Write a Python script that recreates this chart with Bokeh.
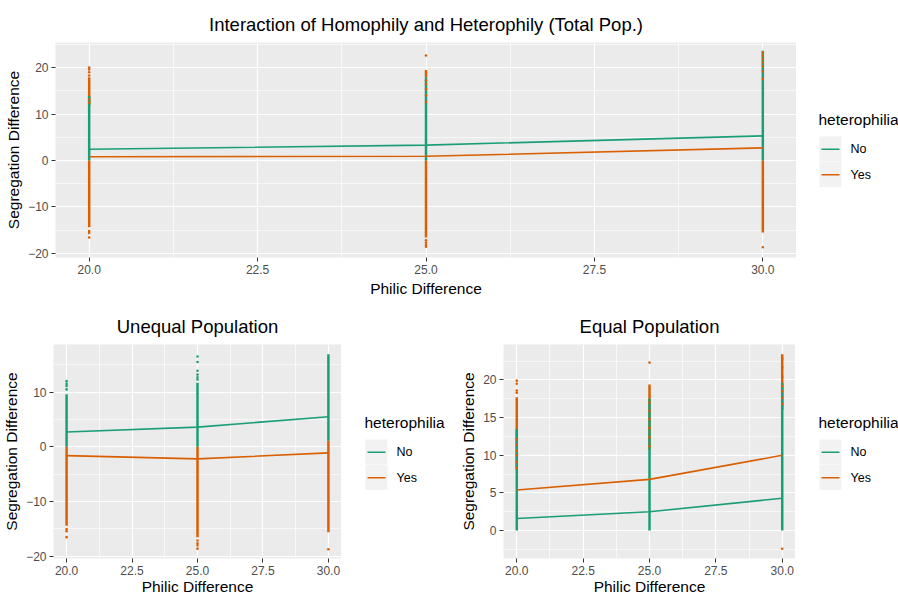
from bokeh.plotting import figure
from bokeh.layouts import column, row
from bokeh.models import Range1d, FixedTicker, PrintfTickFormatter
from bokeh.core.properties import value
from bokeh.embed import file_html
from bokeh.resources import INLINE

# ---- data -------------------------------------------------------------
philic = [20, 25, 30]
x_major = [20.0, 22.5, 25.0, 27.5, 30.0]
x_minor = [21.25, 23.75, 26.25, 28.75]

legend_title = "heterophilia"
legend_labels = ["No", "Yes"]

# mean segregation difference per philic difference
total_no_mean = [2.4, 3.3, 5.3]
total_yes_mean = [0.8, 0.9, 2.7]
unequal_no_mean = [2.7, 3.6, 5.5]
unequal_yes_mean = [-1.6, -2.2, -1.1]
equal_no_mean = [1.6, 2.5, 4.3]
equal_yes_mean = [5.4, 6.8, 10.0]

# dense runs of simulated outcomes: x, low end, high end
total_no_run_x = [20, 25, 30]
total_no_run_lo = [0, 0, 0]
total_no_run_hi = [13.9, 17.9, 23.6]
total_yes_run_x = [20, 20, 25, 25, 30]
total_yes_run_lo = [11.8, -14.4, 17.9, -16.6, -15.5]
total_yes_run_hi = [17.9, 0, 19.5, 0, 0]

unequal_no_run_x = [20, 25, 30]
unequal_no_run_lo = [0, 0, 1.1]
unequal_no_run_hi = [9.6, 11.7, 16.9]
unequal_yes_run_x = [20, 25, 30]
unequal_yes_run_lo = [-14.4, -16.5, -15.6]
unequal_yes_run_hi = [0, 0, 1.1]

equal_no_run_x = [20, 25, 30]
equal_no_run_lo = [0, 0, 0]
equal_no_run_hi = [13.5, 17.5, 19.6]
equal_yes_run_x = [20, 25, 30]
equal_yes_run_lo = [8.2, 10.7, 16.0]
equal_yes_run_hi = [17.7, 19.4, 23.4]

# isolated outcomes
total_no_dot_x = []
total_no_dot_y = []
total_yes_dot_x = [20, 20, 20, 20, 20, 20, 20, 25, 25, 25, 25, 25, 30]
total_yes_dot_y = [18.3, 19.0, 19.6, 20.0, -15.2, -15.6, -16.6,
                   22.6, -17.2, -17.7, -18.2, -18.6, -18.7]
total_yes_over_x = [20, 20, 25, 25, 25, 25, 25, 30, 30, 30, 30, 30, 30, 30]
total_yes_over_y = [12.4, 13.1, 12.6, 14.0, 15.3, 16.4, 17.2,
                    23.3, 22.6, 21.9, 21.1, 20.3, 19.2, 17.6]

unequal_no_dot_x = [20, 20, 20, 20, 25, 25, 25, 25, 25, 25]
unequal_no_dot_y = [10.5, 11.1, 11.5, 12.0, 12.3, 12.7, 13.2, 13.9, 15.5, 16.5]
unequal_yes_dot_x = [20, 20, 20, 25, 25, 25, 25, 30]
unequal_yes_dot_y = [-15.0, -15.4, -16.5, -17.1, -17.6, -18.0, -18.6, -18.7]
unequal_yes_over_x = []
unequal_yes_over_y = []

equal_no_dot_x = []
equal_no_dot_y = []
equal_yes_dot_x = [20, 20, 20, 20, 25, 30]
equal_yes_dot_y = [18.3, 18.6, 19.5, 19.9, 22.3, -2.4]
equal_yes_over_x = [20, 20, 20, 20, 20, 20, 25, 25, 25, 25, 25, 25,
                    30, 30, 30, 30, 30, 30, 30]
equal_yes_over_y = [8.3, 9.1, 10.0, 10.6, 11.4, 12.1, 11.2, 12.4, 13.6, 14.8,
                    15.9, 17.0, 16.8, 17.6, 18.5, 19.2, 20.4, 21.6, 22.8]

GREEN = "#1B9E77"
ORANGE = "#D95F02"
COLORS = [GREEN, ORANGE]
FONT = "Liberation Sans"


def make_panel(title, width, height, borders, y_range, y_major, y_minor,
               runs, dots, over, means, x_label_gap=3):
    left, top, bottom = borders
    p = figure(width=width, height=height, output_backend="svg",
               toolbar_location=None, x_range=Range1d(19.5, 30.5),
               y_range=Range1d(*y_range), min_border_left=left,
               min_border_right=0, min_border_top=top,
               min_border_bottom=bottom, title=title)
    p.background_fill_color = "#EBEBEB"
    p.border_fill_color = "white"
    p.outline_line_color = None
    p.title.text_font = FONT
    p.title.text_font_size = "18.5px"
    p.title.text_font_style = "normal"
    p.title.text_color = "black"
    p.title.align = "center"
    p.title.standoff = 15

    p.xaxis.ticker = FixedTicker(ticks=x_major, minor_ticks=x_minor)
    p.xaxis.formatter = PrintfTickFormatter(format="%.1f")
    p.yaxis.ticker = FixedTicker(ticks=y_major, minor_ticks=y_minor)
    p.xaxis.axis_label = "Philic Difference"
    p.yaxis.axis_label = "Segregation Difference"
    for ax in (p.xaxis[0], p.yaxis[0]):
        ax.axis_line_color = None
        ax.major_tick_line_color = "#333333"
        ax.major_tick_out = 4
        ax.major_tick_in = 0
        ax.minor_tick_line_color = None
        ax.major_label_standoff = 3
        ax.major_label_text_font = FONT
        ax.major_label_text_font_size = "12px"
        ax.major_label_text_color = "#4D4D4D"
        ax.axis_label_text_font = FONT
        ax.axis_label_text_font_size = "15.5px"
        ax.axis_label_text_font_style = "normal"
        ax.axis_label_text_color = "black"
        ax.axis_label_standoff = 3
    p.xaxis[0].axis_label_standoff = x_label_gap
    for g in (p.xgrid[0], p.ygrid[0]):
        g.grid_line_color = "white"
        g.grid_line_width = 1.2
        g.minor_grid_line_color = "white"
        g.minor_grid_line_width = 0.6

    (nx, nlo, nhi), (yx, ylo, yhi) = runs
    (ndx, ndy), (ydx, ydy) = dots
    ox, oy = over
    no_mean, yes_mean = means

    # orange outcomes underneath, green outcomes over them
    p.segment(x0=yx, y0=ylo, x1=yx, y1=yhi, line_color=ORANGE, line_width=2.5)
    p.scatter(ydx, ydy, size=2.6, marker="circle", fill_color=ORANGE,
              line_color=None)
    p.segment(x0=nx, y0=nlo, x1=nx, y1=nhi, line_color=GREEN, line_width=2.5)
    p.scatter(ndx, ndy, size=2.6, marker="circle", fill_color=GREEN,
              line_color=None)
    p.scatter(ox, oy, size=2.6, marker="circle", fill_color=ORANGE,
              line_color=None)

    p.line(philic, no_mean, line_color=GREEN, line_width=1.6)
    p.line(philic, yes_mean, line_color=ORANGE, line_width=1.6)
    return p


def make_key(width, height, top, bottom, left, title_y, key_top):
    """Legend column beside a panel; its frame lines up with the panel's,
    and positions are given in figure pixels measured from the top."""
    k = figure(width=width, height=height, output_backend="svg",
               toolbar_location=None, x_range=Range1d(0, width),
               y_range=Range1d(height - bottom, top), min_border_left=0,
               min_border_right=0, min_border_top=top,
               min_border_bottom=bottom)
    k.axis.visible = False
    k.grid.visible = False
    k.outline_line_color = None
    k.background_fill_color = "white"
    k.border_fill_color = "white"

    k.text(x=[left - 1], y=[title_y], text=[legend_title],
           text_font=value(FONT), text_font_size="15.5px",
           text_color="black", text_baseline="middle", text_align="left")
    key_h = 25.5
    tops = [key_top + i * key_h for i in range(len(legend_labels))]
    k.quad(left=[left] * len(tops), right=[left + 22] * len(tops),
           top=tops, bottom=[t + key_h - 0.5 for t in tops],
           fill_color="#F2F2F2", line_color=None)
    mids = [t + key_h / 2 for t in tops]
    k.segment(x0=[left + 2] * len(mids), x1=[left + 20] * len(mids),
              y0=mids, y1=mids, line_color=COLORS, line_width=1.6)
    k.text(x=[left + 31] * len(mids), y=mids, text=legend_labels,
           text_font=value(FONT), text_font_size="12.5px",
           text_color="black", text_baseline="middle", text_align="left")
    return k


top = make_panel("Interaction of Homophily and Heterophily (Total Pop.)",
                 796, 300, (55, 42, 43), (-20.9, 25.4),
                 [-20, -10, 0, 10, 20], [-15, -5, 5, 15, 25],
                 ((total_no_run_x, total_no_run_lo, total_no_run_hi),
                  (total_yes_run_x, total_yes_run_lo, total_yes_run_hi)),
                 ((total_no_dot_x, total_no_dot_y),
                  (total_yes_dot_x, total_yes_dot_y)),
                 (total_yes_over_x, total_yes_over_y),
                 (total_no_mean, total_yes_mean))
top_key = make_key(102, 300, 42, 43, 23, 119, 136)

unequal = make_panel("Unequal Population", 341, 298, (53, 44, 40),
                     (-20.4, 18.7), [-20, -10, 0, 10], [-15, -5, 5, 15],
                     ((unequal_no_run_x, unequal_no_run_lo, unequal_no_run_hi),
                      (unequal_yes_run_x, unequal_yes_run_lo, unequal_yes_run_hi)),
                     ((unequal_no_dot_x, unequal_no_dot_y),
                      (unequal_yes_dot_x, unequal_yes_dot_y)),
                     (unequal_yes_over_x, unequal_yes_over_y),
                     (unequal_no_mean, unequal_yes_mean), x_label_gap=0)
unequal_key = make_key(108, 298, 44, 40, 24, 121.5, 139)

equal = make_panel("Equal Population", 346, 298, (54, 44, 40),
                   (-3.7, 24.7), [0, 5, 10, 15, 20],
                   [-2.5, 2.5, 7.5, 12.5, 17.5, 22.5],
                   ((equal_no_run_x, equal_no_run_lo, equal_no_run_hi),
                    (equal_yes_run_x, equal_yes_run_lo, equal_yes_run_hi)),
                   ((equal_no_dot_x, equal_no_dot_y),
                    (equal_yes_dot_x, equal_yes_dot_y)),
                   (equal_yes_over_x, equal_yes_over_y),
                   (equal_no_mean, equal_yes_mean), x_label_gap=0)
equal_key = make_key(103, 298, 44, 40, 24, 122, 139)

page = column(row(top, top_key), row(unequal, unequal_key, equal, equal_key))
open("out.html", "w").write(file_html(page, INLINE))
